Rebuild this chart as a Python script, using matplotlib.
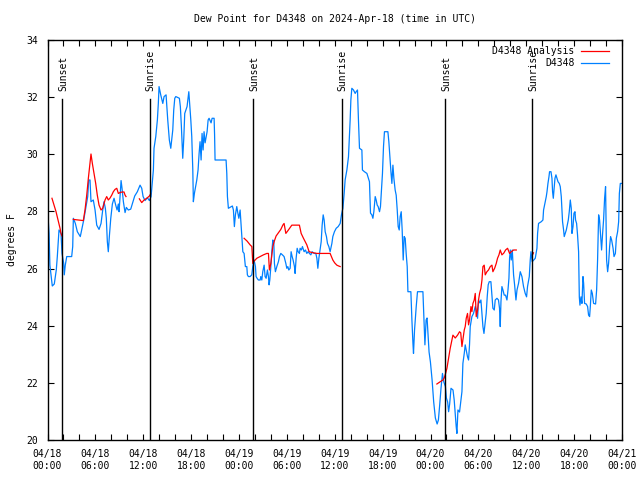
import numpy as np
import matplotlib
matplotlib.use('Agg')
import matplotlib.pyplot as plt
import matplotlib.transforms as mtransforms
from matplotlib.ticker import MultipleLocator

# 时间以 2024-04-18 00:00 UTC 起算的小时数
blue_hours = [
    0.0, 0.2, 0.3, 0.6, 0.85, 1.1, 1.23, 1.44, 1.69, 1.82,
    2.03, 2.1, 2.23, 2.41, 3.03, 3.16, 3.24, 3.49, 3.74, 4.11,
    4.33, 4.54, 4.83, 5.04, 5.17, 5.33, 5.45, 5.74, 5.96, 6.17,
    6.46, 6.71, 6.92, 7.08, 7.25, 7.37, 7.5, 7.62, 7.75, 7.93,
    8.13, 8.34, 8.55, 8.72, 8.88, 8.97, 9.09, 9.22, 9.34, 9.51,
    9.72, 9.88, 10.13, 10.43, 10.72, 10.93, 11.26, 11.6, 11.81, 11.98,
    12.23, 12.51, 12.77, 12.98, 13.1, 13.27, 13.35, 13.57, 13.77, 13.89,
    13.98, 14.19, 14.45, 14.61, 14.86, 15.07, 15.27, 15.45, 15.7, 15.82,
    15.95, 16.08, 16.53, 16.65, 16.78, 16.95, 17.08, 17.2, 17.49, 17.71,
    17.96, 18.08, 18.21, 18.28, 18.41, 18.71, 18.87, 19.0, 19.12, 19.25,
    19.37, 19.5, 19.62, 19.75, 20.0, 20.13, 20.25, 20.5, 20.63, 20.88,
    20.94, 21.0, 22.38, 22.47, 22.55, 22.67, 23.17, 23.3, 23.42, 23.55,
    23.72, 23.85, 23.98, 24.14, 24.26, 24.48, 24.64, 24.8, 24.98, 25.05,
    25.18, 25.39, 25.6, 25.73, 25.89, 26.06, 26.14, 26.27, 26.43, 26.65,
    26.73, 26.86, 26.98, 27.15, 27.27, 27.4, 27.56, 27.69, 27.77, 27.86,
    27.99, 28.11, 28.24, 28.36, 28.44, 28.56, 28.74, 28.94, 29.07, 29.24,
    29.44, 29.65, 29.87, 29.99, 30.12, 30.24, 30.41, 30.53, 30.66, 30.78,
    30.95, 31.03, 31.16, 31.29, 31.41, 31.57, 31.66, 31.82, 31.95, 32.16,
    32.33, 32.5, 32.66, 32.83, 33.0, 33.17, 33.42, 33.63, 33.76, 33.88,
    34.01, 34.13, 34.3, 34.42, 34.55, 34.67, 34.8, 34.96, 35.09, 35.26,
    35.42, 35.64, 35.76, 35.96, 36.18, 36.43, 36.68, 36.84, 37.02, 37.18,
    37.3, 37.52, 37.72, 37.93, 38.02, 38.14, 38.35, 38.56, 38.68, 38.85,
    38.97, 39.1, 39.4, 39.47, 39.72, 40.03, 40.15, 40.35, 40.48, 40.65,
    40.78, 40.9, 41.07, 41.19, 41.32, 41.44, 41.61, 41.73, 41.86, 41.98,
    42.11, 42.23, 42.66, 42.78, 42.91, 43.04, 43.16, 43.29, 43.41, 43.57,
    43.7, 43.83, 43.95, 44.08, 44.2, 44.33, 44.45, 44.58, 44.7, 44.83,
    44.95, 45.08, 45.17, 45.54, 45.67, 45.8, 45.87, 46.0, 46.21, 46.37,
    47.05, 47.17, 47.3, 47.45, 47.57, 47.7, 47.82, 47.99, 48.2, 48.4,
    48.61, 48.83, 48.99, 49.15, 49.32, 49.5, 49.66, 49.87, 49.99, 50.15,
    50.27, 50.4, 50.57, 50.82, 50.97, 51.1, 51.22, 51.31, 51.44, 51.64,
    51.81, 51.94, 52.06, 52.23, 52.35, 52.48, 52.64, 52.77, 52.89, 52.98,
    53.19, 53.39, 53.61, 53.73, 53.9, 54.02, 54.17, 54.32, 54.45, 54.57,
    54.7, 54.86, 54.98, 55.11, 55.23, 55.36, 55.57, 55.7, 55.82, 55.99,
    56.11, 56.33, 56.52, 56.65, 56.74, 56.83, 56.95, 57.08, 57.24, 57.4,
    57.58, 57.71, 57.83, 57.91, 58.0, 58.12, 58.25, 58.41, 58.54, 58.71,
    58.84, 59.04, 59.25, 59.46, 59.66, 59.87, 60.04, 60.16, 60.38, 60.5,
    60.59, 60.75, 60.94, 61.13, 61.34, 61.42, 61.54, 61.88, 62.09, 62.17,
    62.38, 62.51, 62.6, 62.72, 62.85, 62.92, 63.1, 63.22, 63.3, 63.39,
    63.51, 63.6, 63.72, 63.85, 63.98, 64.14, 64.26, 64.39, 64.48, 64.55,
    64.68, 64.76, 64.89, 65.02, 65.14, 65.27, 65.39, 65.52, 65.64, 65.73,
    65.86, 65.98, 66.11, 66.18, 66.31, 66.43, 66.56, 66.65, 66.73, 66.86,
    66.98, 67.11, 67.19, 67.31, 67.52, 67.69, 67.81, 67.94, 68.03, 68.15,
    68.28, 68.44, 68.69, 68.82, 68.94, 69.07, 69.19, 69.32, 69.44, 69.57,
    69.69, 69.82, 69.94, 70.07, 70.2, 70.32, 70.45, 70.57, 70.7, 70.88,
    71.0, 71.17, 71.29, 71.45, 71.58, 71.67, 71.79, 71.92,
]
# D4348 观测露点 (°F)
blue_dewpt = [
    28.11, 27.23, 26.12, 25.39, 25.46, 25.95, 26.42, 27.35, 27.23, 26.53,
    26.18, 25.78, 26.12, 26.42, 26.42, 26.77, 27.76, 27.58, 27.29, 27.12,
    27.41, 27.70, 28.17, 28.52, 29.10, 29.10, 28.34, 28.40, 28.05, 27.52,
    27.37, 27.58, 28.05, 28.34, 28.11, 27.76, 26.94, 26.59, 27.12, 27.76,
    28.26, 28.46, 28.22, 28.05, 28.26, 27.99, 28.52, 29.08, 28.81, 28.34,
    27.96, 28.14, 28.05, 28.08, 28.34, 28.54, 28.69, 28.92, 28.81, 28.52,
    28.38, 28.48, 28.38, 28.52, 28.92, 29.45, 30.21, 30.62, 31.20, 31.78,
    32.37, 32.08, 31.78, 32.02, 32.08, 31.20, 30.50, 30.21, 30.85, 31.55,
    31.96, 32.02, 31.96, 31.67, 30.97, 29.86, 30.56, 31.43, 31.67, 32.19,
    31.20, 30.62, 29.45, 28.34, 28.63, 29.10, 29.45, 30.03, 30.44, 29.80,
    30.73, 30.15, 30.79, 30.40, 30.79, 31.20, 31.26, 31.10, 31.26, 31.26,
    30.68, 29.80, 29.80, 29.33, 28.52, 28.11, 28.19, 28.05, 27.47, 27.88,
    28.17, 27.95, 27.76, 28.05, 27.52, 26.59, 26.53, 26.07, 26.07, 25.78,
    25.72, 25.72, 25.78, 26.07, 26.30, 26.07, 25.72, 25.66, 25.60, 25.60,
    25.72, 25.60, 25.89, 26.12, 25.72, 25.66, 25.95, 25.72, 25.43, 25.60,
    26.07, 26.59, 27.00, 26.94, 26.18, 25.89, 26.07, 26.24, 26.42, 26.53,
    26.48, 26.42, 26.18, 26.01, 26.07, 25.95, 26.01, 26.59, 26.42, 26.30,
    26.07, 25.83, 26.36, 26.71, 26.59, 26.53, 26.71, 26.65, 26.77, 26.59,
    26.65, 26.53, 26.59, 26.53, 26.48, 26.59, 26.53, 26.53, 26.36, 26.01,
    26.36, 26.59, 26.94, 27.52, 27.88, 27.70, 27.29, 27.12, 26.88, 26.77,
    26.59, 26.88, 27.12, 27.29, 27.41, 27.47, 27.58, 27.88, 28.11, 28.63,
    29.10, 29.45, 29.91, 31.20, 31.90, 32.31, 32.25, 32.13, 32.19, 32.25,
    31.20, 30.21, 30.15, 29.45, 29.39, 29.33, 29.22, 29.04, 27.94, 27.88,
    27.76, 27.99, 28.52, 28.40, 28.22, 28.17, 27.99, 28.17, 28.75, 29.33,
    30.27, 30.79, 30.79, 30.44, 29.91, 29.39, 28.98, 29.62, 29.16, 28.75,
    28.57, 28.05, 27.47, 27.35, 27.82, 27.99, 27.35, 26.30, 27.12, 27.06,
    26.53, 26.07, 25.19, 25.19, 24.20, 23.38, 23.03, 23.85, 24.67, 25.19,
    25.19, 24.32, 23.33, 24.20, 24.27, 23.67, 23.08, 22.73, 22.10, 21.33,
    20.77, 20.56, 20.70, 21.22, 21.82, 22.33, 22.04, 21.87, 21.47, 21.33,
    20.99, 21.26, 21.81, 21.75, 21.40, 20.93, 20.47, 20.23, 21.05, 20.98,
    21.40, 21.69, 22.68, 23.03, 23.33, 23.15, 22.91, 22.80, 23.33, 23.97,
    24.32, 24.43, 24.67, 24.55, 24.26, 24.90, 24.80, 24.90, 24.43, 23.97,
    23.73, 24.14, 24.43, 25.02, 25.43, 25.54, 25.54, 25.07, 24.61, 24.55,
    24.90, 24.96, 24.90, 24.61, 23.97, 24.84, 25.37, 25.25, 25.07, 25.07,
    24.90, 25.25, 25.66, 26.36, 26.65, 26.30, 26.65, 25.78, 25.43, 24.90,
    25.25, 25.49, 25.89, 25.72, 25.37, 25.13, 25.01, 25.37, 25.72, 26.30,
    26.59, 26.24, 26.30, 26.36, 26.71, 27.23, 27.58, 27.64, 27.70, 28.05,
    28.34, 28.52, 28.69, 28.98, 29.22, 29.39, 29.39, 29.16, 28.69, 28.46,
    28.87, 29.16, 29.28, 29.16, 29.04, 28.98, 28.87, 28.52, 27.99, 27.64,
    27.35, 27.12, 27.23, 27.35, 27.52, 27.70, 27.99, 28.40, 28.11, 27.23,
    27.47, 27.94, 27.99, 27.70, 27.58, 27.17, 26.59, 25.01, 24.72, 25.01,
    24.78, 25.72, 25.49, 24.78, 24.76, 24.67, 24.37, 24.32, 24.67, 25.25,
    25.13, 24.78, 24.76, 25.25, 26.30, 27.88, 27.70, 27.17, 26.65, 27.23,
    27.70, 28.46, 28.87, 26.30, 25.89, 26.18, 26.77, 27.12, 27.00, 26.71,
    26.42, 26.53, 27.06, 27.29, 27.64, 28.63, 28.98, 28.98,
]

# D4348 Analysis，None 处为缺测断开
anal_hours = [
    0.56, 0.82, 1.07, 1.32, 1.57, 1.69, 1.82, None,
    3.24, 3.82, 4.49, 4.70, 4.92, 5.12, 5.33, 5.45, 5.62, 5.83,
    6.04, 6.24, 6.46, 6.71, 6.92, 7.21, 7.42, 7.62, 7.84, 8.05,
    8.25, 8.46, 8.68, 8.88, 9.09, 9.34, 9.59, 9.72, 9.84, None,
    11.51, 11.81, 12.1, 12.44, 12.77, 12.92, None,
    24.64, 25.02, 25.39, 25.61, 25.73, 25.89, 26.23, 26.65, 27.06, 27.49,
    27.69, 27.81, 27.99, 28.24, 28.40, 28.65, 28.94, 29.24, 29.49, 29.65,
    29.87, 30.19, 30.62, 31.03, 31.57, 31.79, 32.08, 32.5, 32.79, 33.17,
    33.76, 34.17, 34.80, 35.42, 35.76, 35.99, 36.26, 36.49, 36.68, None,
    48.8, 49.22, 49.56, 49.72, 49.89, 50.06, 50.27, 50.47, 50.69, 50.81,
    51.1, 51.39, 51.64, 51.79, 51.94, 52.06, 52.23, 52.35, 52.48, 52.64,
    52.77, 52.89, 53.07, 53.19, 53.32, 53.48, 53.61, 53.73, 53.9, 54.02,
    54.15, 54.32, 54.45, 54.57, 54.73, 54.86, 55.07, 55.27, 55.49, 55.7,
    55.82, 56.05, 56.24, 56.40, 56.58, 56.74, 56.95, 57.18, 57.41, 57.66,
    57.91, 58.12, 58.41, 58.75, None,
    60.78, 60.9,
]
anal_dewpt = [
    28.46, 28.22, 27.99, 27.70, 27.41, 27.23, 27.14, None,
    27.72, 27.70, 27.68, 28.05, 28.58, 29.16, 29.68, 30.01, 29.68, 29.33,
    28.98, 28.57, 28.22, 28.05, 28.11, 28.40, 28.52, 28.40, 28.47, 28.57,
    28.69, 28.77, 28.81, 28.63, 28.66, 28.68, 28.68, 28.57, 28.52, None,
    28.44, 28.31, 28.40, 28.46, 28.54, 28.61, None,
    27.06, 26.96, 26.83, 26.77, 26.18, 26.26, 26.36, 26.42, 26.48, 26.53,
    26.53, 25.95, 26.18, 26.77, 26.94, 27.14, 27.25, 27.37, 27.52, 27.58,
    27.23, 27.35, 27.52, 27.52, 27.52, 27.23, 27.06, 26.83, 26.59, 26.56,
    26.53, 26.53, 26.53, 26.53, 26.30, 26.20, 26.12, 26.09, 26.07, None,
    21.96, 22.04, 22.10, 22.17, 22.33, 22.51, 22.86, 23.21, 23.50, 23.67,
    23.57, 23.67, 23.79, 23.75, 23.27, 23.50, 23.85, 23.97, 24.26, 24.43,
    24.03, 24.20, 24.67, 24.49, 24.78, 24.90, 25.13, 24.32, 24.55, 24.90,
    25.13, 25.31, 25.60, 26.07, 26.12, 25.78, 25.89, 25.95, 26.07, 26.12,
    25.89, 26.02, 26.18, 26.36, 26.48, 26.65, 26.48, 26.54, 26.65, 26.71,
    26.53, 26.59, 26.65, 26.65, None,
    26.48, 26.55,
]

# 日落、日出时刻（小时）
sunset_hours = [1.85, 25.8, 49.84]
sunrise_hours = [12.8, 36.85, 60.78]

# 刻度标签
tick_hours = list(range(0, 73, 6))
tick_labels = ['04/18\n00:00', '04/18\n06:00', '04/18\n12:00', '04/18\n18:00',
               '04/19\n00:00', '04/19\n06:00', '04/19\n12:00', '04/19\n18:00',
               '04/20\n00:00', '04/20\n06:00', '04/20\n12:00', '04/20\n18:00',
               '04/21\n00:00']

plt.rcParams['font.family'] = ['DejaVu Sans Mono']
plt.rcParams['font.size'] = 7

fig = plt.figure(figsize=(6.4, 4.8), dpi=100)
ax = fig.add_axes([47.5 / 640, 40 / 480, 574.5 / 640, 400 / 480])

line_obs, = ax.plot(blue_hours, blue_dewpt, color='#0080ff', lw=0.9, label='D4348')
line_anal, = ax.plot(np.array(anal_hours, dtype=float), np.array(anal_dewpt, dtype=float),
                     color='#ff0000', lw=0.9, label='D4348 Analysis')

# 日落日出竖线和文字
trans = mtransforms.blended_transform_factory(ax.transData, ax.transAxes)
for h in sunset_hours:
    ax.axvline(h, ymax=0.853, color='black', lw=1.0)
    ax.text(h + 0.1, 0.872, 'Sunset', rotation=90, transform=trans, ha='center', va='bottom')
for h in sunrise_hours:
    ax.axvline(h, ymax=0.853, color='black', lw=1.0)
    ax.text(h + 0.1, 0.872, 'Sunrise', rotation=90, transform=trans, ha='center', va='bottom')

ax.set_xlim(0, 72)
ax.set_ylim(20, 34)
ax.set_xticks(tick_hours)
ax.set_xticklabels(tick_labels, linespacing=1.3)
ax.xaxis.set_minor_locator(MultipleLocator(2))
ax.yaxis.set_major_locator(MultipleLocator(2))
ax.tick_params(which='both', direction='in', top=True, right=True, width=0.8, color='black')
ax.tick_params(which='major', length=4)
ax.tick_params(which='minor', length=4)
ax.tick_params(axis='x', pad=6.5)
ax.tick_params(axis='y', pad=7)
for s in ax.spines.values():
    s.set_linewidth(1.0)

ax.legend(handles=[line_anal, line_obs], loc='upper right', bbox_to_anchor=(0.978, 0.985),
          frameon=False, markerfirst=False, handlelength=2.9, handletextpad=0.7,
          labelspacing=0.25, borderpad=0, borderaxespad=0)

fig.text(12 / 640, 0.5, 'degrees F', rotation=90, ha='center', va='center')
fig.text(334.75 / 640, 1 - 19 / 480, 'Dew Point for D4348 on 2024-Apr-18 (time in UTC)',
         ha='center', va='center')

fig.savefig('out.png', dpi=100)
